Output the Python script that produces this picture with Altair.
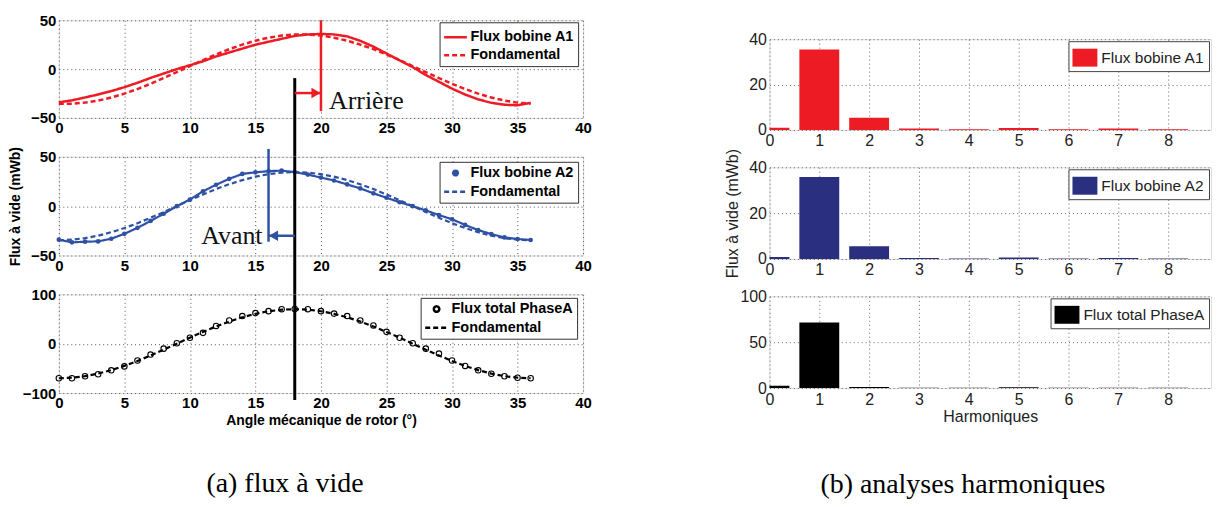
import altair as alt
import pandas as pd

# ---------------- data ----------------
angles = list(range(37))

a1_flux = [-34, -32, -29, -26, -22.5, -18.5, -14, -9, -4.5, 0, 4, 8, 13, 17, 21, 25, 28, 31,
           34, 35.5, 36, 35.5, 33.5, 29, 23, 16, 9, 2, -6, -13, -20, -26, -31, -34.5, -36.5, -37, -34.5]
a1_fund = [-35.4, -35.4, -34.3, -32.2, -29.1, -25.1, -20.4, -15, -9.2, -3.1, 3.1, 9.2, 15, 20.4, 25.1, 29.1, 32.2, 34.3,
           35.4, 35.4, 34.3, 32.2, 29.1, 25.1, 20.4, 15, 9.2, 3.1, -3.1, -9.2, -15, -20.4, -25.1, -29.1, -32.2, -34.3, -35.4]

a2_flux = [-34, -36.7, -36, -35.7, -33, -28, -22, -15, -7.7, 0, 6.7, 15, 21.7, 27.7, 32.7, 34.3, 35.5, 36,
           34.5, 32, 29, 26, 22, 18, 13, 8.5, 4, 0, -4.3, -9, -13.3, -19, -24.3, -28.3, -31.7, -33.3, -34.3]
a2_fund = [-34.5, -34, -32.4, -29.9, -26.4, -22.2, -17.3, -11.8, -6, 0, 6, 11.8, 17.3, 22.2, 26.4, 29.9, 32.4, 34,
           34.5, 34, 32.4, 29.9, 26.4, 22.2, 17.3, 11.8, 6, 0, -6, -11.8, -17.3, -22.2, -26.4, -29.9, -32.4, -34, -34.5]

total_flux = [-70, -70, -66, -62, -54, -46, -34, -22, -10, 1, 12, 22, 36, 47, 56, 62, 66, 70,
              70.5, 70, 66, 61, 56, 47, 37, 24, 12, 1, -10, -20, -34, -45, -54, -61, -66, -69, -70]
total_fund = [-70, -68.9, -65.8, -60.6, -53.6, -45, -35, -23.9, -12.2, 0, 12.2, 23.9, 35, 45, 53.6, 60.6, 65.8, 68.9,
              70, 68.9, 65.8, 60.6, 53.6, 45, 35, 23.9, 12.2, 0, -12.2, -23.9, -35, -45, -53.6, -60.6, -65.8, -68.9, -70]

harmonics = list(range(9))
h_a1 = [1.0, 35.5, 5.4, 0.6, 0.3, 0.8, 0.3, 0.6, 0.3]
h_a2 = [0.9, 35.8, 5.6, 0.4, 0.2, 0.7, 0.2, 0.4, 0.2]
h_total = [2.6, 71.5, 1.2, 0.3, 0.3, 1.0, 0.3, 0.3, 0.3]

x_ticks_left = [0, 5, 10, 15, 20, 25, 30, 35, 40]
y_ticks_coil = [-50, 0, 50]
y_ticks_total = [-100, 0, 100]
y_ticks_h_coil = [0, 20, 40]
y_ticks_h_total = [0, 50, 100]
harm_domain = [0, 8.86]

ref_angle = [18]          # black reference line
a1_angle = [20]           # "Arrière" marker
a2_angle = [16]           # "Avant" marker
a1_line_y = [-43, 50]
a2_line_y = [-36, 58]
a1_arrow_y = [-24.5]
a2_arrow_y = [-30]
top_ref_start = [-9.2]
a1_text_y = [-41]
a2_text_y = [-38]

RED = "#ED1C24"
BLUE = "#2F51A5"
NAVY = "#2B2F7F"
BLACK = "#000000"
SANS = "Liberation Sans"
SERIF = "Liberation Serif"
LINE_PATH = "M-1.2,0H1.2"
RECT_PATH = "M-1,-0.72H1V0.72H-1Z"

W_L = 526
W_R = 443


def left_axis(values, title=None, title_padding=4):
    return alt.Axis(values=values, title=title, grid=True, gridDash=[1, 3], gridColor="#555",
                    ticks=False, domain=False, labelFont=SANS, labelFontSize=15, labelFontWeight="bold",
                    labelColor="black", labelPadding=3, labelFlush=False, labelOverlap=False,
                    titleFont=SANS, titleFontSize=14, titleFontWeight="bold", titleColor="black",
                    titlePadding=title_padding)


def right_axis(values, title=None, title_padding=4):
    return alt.Axis(values=values, title=title, grid=True, gridDash=[1, 3], gridColor="#666",
                    ticks=False, domain=False, labelFont=SANS, labelFontSize=16, labelFontWeight="normal",
                    labelColor="#222", labelPadding=3, labelFlush=False, labelOverlap=False,
                    titleFont=SANS, titleFontSize=16, titleFontWeight="normal", titleColor="#222",
                    titlePadding=title_padding)


def left_legend(color, lx, ly):
    return alt.Legend(title=None, orient="none", legendX=lx, legendY=ly, padding=4, rowPadding=0,
                      symbolOffset=1, labelOffset=4, strokeColor="#333", fillColor="white",
                      cornerRadius=0, labelFont=SANS, labelFontSize=14.5, labelFontWeight="bold",
                      labelColor="black", symbolSize=361, symbolStrokeWidth=2.5,
                      symbolType=LINE_PATH, symbolStrokeColor=color, symbolFillColor=color)


def long_df(solid_name, solid_vals, fund_vals):
    return pd.DataFrame({
        "angle": angles + angles,
        "flux": solid_vals + fund_vals,
        "series": [solid_name] * len(angles) + ["Fondamental"] * len(angles),
    })


def left_panel(df, solid_name, color, ydom, yticks, height, kind, leg_pos,
               xtitle=None, ytitle=None, point_size=22, extras=()):
    xaxis = left_axis(x_ticks_left, xtitle, 3)
    yaxis = left_axis(yticks, ytitle, 8)
    leg = left_legend(color, *leg_pos)
    dom = [solid_name, "Fondamental"]
    X = alt.X("angle:Q", scale=alt.Scale(domain=[0, 40], nice=False, padding=0), axis=xaxis)
    Y = alt.Y("flux:Q", scale=alt.Scale(domain=ydom, nice=False, padding=0), axis=yaxis)
    col = alt.Color("series:N", scale=alt.Scale(domain=dom, range=[color, color]), legend=leg)
    dash = alt.StrokeDash("series:N", scale=alt.Scale(domain=dom, range=[[1, 0], [5, 3]]), legend=leg)
    shp = alt.Shape("series:N", scale=alt.Scale(domain=dom, range=["circle", LINE_PATH]), legend=leg)
    siz = alt.Size("series:N", scale=alt.Scale(domain=dom, range=[point_size, 361]), legend=leg)
    base = alt.Chart(df)
    layers = []
    if kind == "lines":
        layers.append(base.mark_line(strokeWidth=2.5).encode(x=X, y=Y, color=col, strokeDash=dash))
    elif kind == "lines_points":
        layers.append(base.mark_line(strokeWidth=2.2).encode(x=X, y=Y, color=col, strokeDash=dash))
        layers.append(base.transform_filter(alt.datum.series == solid_name)
                      .mark_point(filled=True, opacity=1)
                      .encode(x=X, y=Y, color=col, shape=shp, size=siz))
    else:
        layers.append(base.transform_filter(alt.datum.series == solid_name)
                      .mark_point(filled=False, fill="white", fillOpacity=1, opacity=1, strokeWidth=1.1)
                      .encode(x=X, y=Y, color=col, shape=shp, size=siz))
        layers.append(base.transform_filter(alt.datum.series == "Fondamental")
                      .mark_line(strokeWidth=2.2).encode(x=X, y=Y, color=col, strokeDash=dash))
    for mk in extras:
        layers.append(mk(xaxis, yaxis, ydom))
    return alt.layer(*layers).properties(width=W_L, height=height)


def xq(field, xaxis):
    return alt.X(field, type="quantitative", scale=alt.Scale(domain=[0, 40], nice=False, padding=0),
                 axis=xaxis)


def yq(field, yaxis, ydom):
    return alt.Y(field, type="quantitative", scale=alt.Scale(domain=ydom, nice=False, padding=0),
                 axis=yaxis)


# --- annotation layer makers ---
def black_rule_top(xaxis, yaxis, ydom):
    d = pd.DataFrame({"x": ref_angle, "y": top_ref_start})
    return alt.Chart(d).mark_rule(color=BLACK, strokeWidth=3).encode(
        x=xq("x", xaxis), y=yq("y", yaxis, ydom), y2=alt.value(98 + 39))


def black_rule_mid(xaxis, yaxis, ydom):
    d = pd.DataFrame({"x": ref_angle})
    return alt.Chart(d).mark_rule(color=BLACK, strokeWidth=3).encode(
        x=xq("x", xaxis), y=alt.value(0), y2=alt.value(99 + 39))


def black_rule_bot(xaxis, yaxis, ydom):
    d = pd.DataFrame({"x": ref_angle})
    return alt.Chart(d).mark_rule(color=BLACK, strokeWidth=3).encode(
        x=xq("x", xaxis), y=alt.value(0), y2=alt.value(99 + 7))


def marker_line(angle, ys, color):
    def mk(xaxis, yaxis, ydom):
        d = pd.DataFrame({"x": angle, "y": [ys[0]], "y2": [ys[1]]})
        return alt.Chart(d).mark_rule(color=color, strokeWidth=2.5, clip=False).encode(
            x=xq("x", xaxis), y=yq("y", yaxis, ydom), y2="y2:Q")
    return mk


def arrow_shaft(angle, yv, color):
    def mk(xaxis, yaxis, ydom):
        d = pd.DataFrame({"x": ref_angle, "x2": angle, "y": yv})
        return alt.Chart(d).mark_rule(color=color, strokeWidth=2.5).encode(
            x=xq("x", xaxis), x2="x2:Q", y=yq("y", yaxis, ydom))
    return mk


def arrow_head(angle, yv, color, shape, offset):
    def mk(xaxis, yaxis, ydom):
        d = pd.DataFrame({"x": angle, "y": yv})
        return alt.Chart(d).mark_point(shape=shape, filled=True, size=110, opacity=1, color=color,
                                       xOffset=offset).encode(
            x=xq("x", xaxis), y=yq("y", yaxis, ydom))
    return mk


def label_text(angle, yv, text, align, dx):
    def mk(xaxis, yaxis, ydom):
        d = pd.DataFrame({"x": angle, "y": yv, "t": [text]})
        return alt.Chart(d).mark_text(font=SERIF, fontSize=26, align=align, baseline="alphabetic",
                                      dx=dx, color="#111").encode(
            x=xq("x", xaxis), y=yq("y", yaxis, ydom), text="t:N")
    return mk


top = left_panel(
    long_df("Flux bobine A1", a1_flux, a1_fund), "Flux bobine A1", RED, [-50, 50], y_ticks_coil, 98,
    "lines", (382, 2),
    extras=(black_rule_top, marker_line(a1_angle, a1_line_y, RED),
            arrow_shaft(a1_angle, a1_arrow_y, RED),
            arrow_head(a1_angle, a1_arrow_y, RED, "triangle-right", -5),
            label_text(a1_angle, a1_text_y, "Arrière", "left", 8)))

mid = left_panel(
    long_df("Flux bobine A2", a2_flux, a2_fund), "Flux bobine A2", BLUE, [-50, 50], y_ticks_coil, 99,
    "lines_points", (382, 5), ytitle="Flux à vide (mWb)", point_size=22,
    extras=(black_rule_mid, marker_line(a2_angle, a2_line_y, BLUE),
            arrow_shaft(a2_angle, a2_arrow_y, BLUE),
            arrow_head(a2_angle, a2_arrow_y, BLUE, "triangle-left", 5),
            label_text(a2_angle, a2_text_y, "Avant", "right", -6)))

bot = left_panel(
    long_df("Flux total PhaseA", total_flux, total_fund), "Flux total PhaseA", BLACK, [-100, 100],
    y_ticks_total, 99, "points", (363, 3.5), xtitle="Angle mécanique de rotor (°)", point_size=30,
    extras=(black_rule_bot,))


def bar_panel(vals, name, color, yticks, ydom, height, xtitle=None, ytitle=None):
    df = pd.DataFrame({"h": harmonics, "v": vals, "series": [name] * len(harmonics)})
    leg = alt.Legend(title=None, orient="top-right", offset=2, padding=4, symbolType=RECT_PATH,
                     symbolSize=625, symbolStrokeWidth=0, labelOffset=4, labelFont=SANS,
                     labelFontSize=15.5, labelColor="#222", strokeColor="#444", fillColor="white",
                     cornerRadius=0)
    return alt.Chart(df).mark_bar(size=40, clip=True).encode(
        x=alt.X("h:Q", scale=alt.Scale(domain=harm_domain, nice=False, zero=False, padding=0),
                axis=right_axis(harmonics, xtitle, 2)),
        y=alt.Y("v:Q", scale=alt.Scale(domain=ydom, nice=False, padding=0),
                axis=right_axis(yticks, ytitle, 8)),
        color=alt.Color("series:N", scale=alt.Scale(domain=[name], range=[color]), legend=leg),
    ).properties(width=W_R, height=height)


r1 = bar_panel(h_a1, "Flux bobine A1", RED, y_ticks_h_coil, [0, 40], 91)
r2 = bar_panel(h_a2, "Flux bobine A2", NAVY, y_ticks_h_coil, [0, 40], 92, ytitle="Flux à vide (mWb)")
r3 = bar_panel(h_total, "Flux total PhaseA", BLACK, y_ticks_h_total, [0, 100], 92, xtitle="Harmoniques")

spacer = alt.Chart(pd.DataFrame({"v": [0]})).mark_point(opacity=0).encode(
    x=alt.X("v:Q", axis=None), y=alt.Y("v:Q", axis=None)
).properties(width=W_R, height=18.5, view=alt.ViewBackground(stroke="transparent"))

RES = dict(color="independent", strokeDash="independent", shape="independent", size="independent")

left = alt.vconcat(top, mid, bot, spacing=39, bounds="flush").resolve_scale(**RES).properties(
    title=alt.TitleParams("(a) flux à vide", orient="bottom", anchor="middle", frame="bounds",
                          offset=41.5, dx=-15, font=SERIF, fontSize=28, fontWeight="normal", color="black"))

right_inner = alt.vconcat(r1, r2, r3, spacing=37.5, bounds="flush").resolve_scale(**RES)
right = alt.vconcat(spacer, right_inner, spacing=0, bounds="flush").resolve_scale(**RES).properties(
    title=alt.TitleParams("(b) analyses harmoniques", orient="bottom", anchor="middle", frame="bounds",
                          offset=46, dx=-5, font=SERIF, fontSize=28, fontWeight="normal", color="black"))

chart = alt.hconcat(left, right, spacing=132).resolve_scale(**RES).properties(
    padding={"left": 0, "top": 3.5, "right": 0, "bottom": 0}
).configure_view(stroke="#222", strokeWidth=1).configure(background="white")

chart.save("out.html", embed_options={"renderer": "svg", "actions": False})
